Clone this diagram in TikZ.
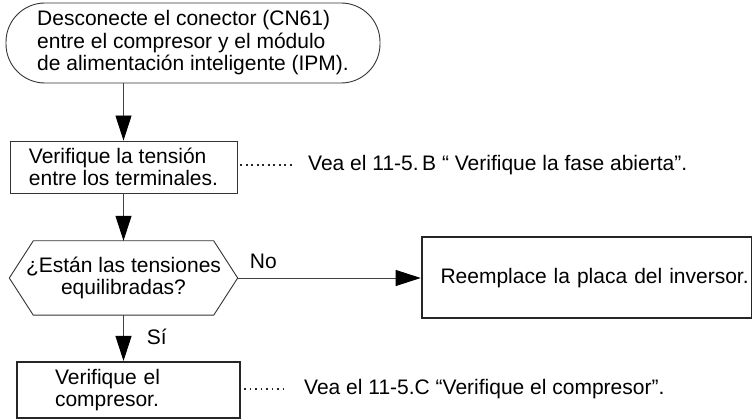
\documentclass[tikz,border=0pt]{standalone}
\usepackage{fontspec}
\setmainfont{Liberation Sans}
\usetikzlibrary{arrows.meta,positioning,calc}

\begin{document}
\begin{tikzpicture}[x=1pt, y=1pt,
  every node/.style={font=\fontsize{21}{22.5}\selectfont, text=black},
  term/.style={draw=black!80, line width=0.9pt, rounded corners=39pt, align=left, minimum width=374pt, minimum height=80pt, inner sep=0pt},
  box/.style={draw=black!80, line width=0.9pt, align=left, minimum width=227pt, minimum height=52pt, inner sep=0pt},
  thickbox/.style={draw=black!85, line width=2pt, minimum height=56pt, inner sep=0pt},
  hexnode/.style={align=center, minimum width=228pt, minimum height=74pt, inner sep=0pt},
  note/.style={anchor=west, inner sep=4pt},
  lbl/.style={inner sep=0pt},
  arr/.style={-{Triangle[length=25pt, width=16pt, color=black, fill=black]}, draw=black!75, line width=0.9pt},
  dotline/.style={draw=black!85, line width=1.6pt, dash pattern=on 1.6pt off 3.9pt, shorten <=3pt}
]
\useasboundingbox (0,0) rectangle (752,420);

\node[term] (start) at (193,377)
  {Desconecte el conector (CN61)\\entre el compresor y el módulo\\de alimentación inteligente (IPM).};
\node[box] (check1) at (123.5,253) {Verifique la tensión\\entre los terminales.};
\node[hexnode] (decision) at (123.5,142) {¿Están las tensiones\\equilibradas?};
\draw[draw=black!80, line width=0.9pt]
  ([xshift=24pt]decision.north west) -- ([xshift=-24pt]decision.north east) -- (decision.east)
  -- ([xshift=-24pt]decision.south east) -- ([xshift=24pt]decision.south west) -- (decision.west) -- cycle;
\node[thickbox, minimum width=330pt, minimum height=81pt, text width=324pt, align=right,
  right=183pt of decision] (replace) {Reemplace la placa del inversor.};
\node[thickbox, minimum width=223pt, text width=147pt, align=left] (check2) at (128.5,30)
  {Verifique el\\compresor.};

\draw[arr] (start.south -| check1.north) -- (check1.north);
\draw[arr] (check1) -- (decision.north);
\draw[arr] (decision.east) -- node[lbl, above=8.5pt, pos=0.14] {No} (replace.west);
\draw[arr] (decision.south) -- node[lbl, right=23pt, pos=0.47] {Sí} (decision.south |- check2.north);

\node[note] (note1) at (304,255) {Vea el 11-5.\,B “ Verifique la fase abierta”.};
\node[note] (note2) at (300,31) {Vea el 11-5.C “Verifique el compresor”.};
\draw[dotline, shorten >=12pt] (check1.east |- note1.west) -- (note1.west);
\draw[dotline, shorten >=15pt] (check2.east |- note2.west) -- (note2.west);

\end{tikzpicture}
\end{document}
